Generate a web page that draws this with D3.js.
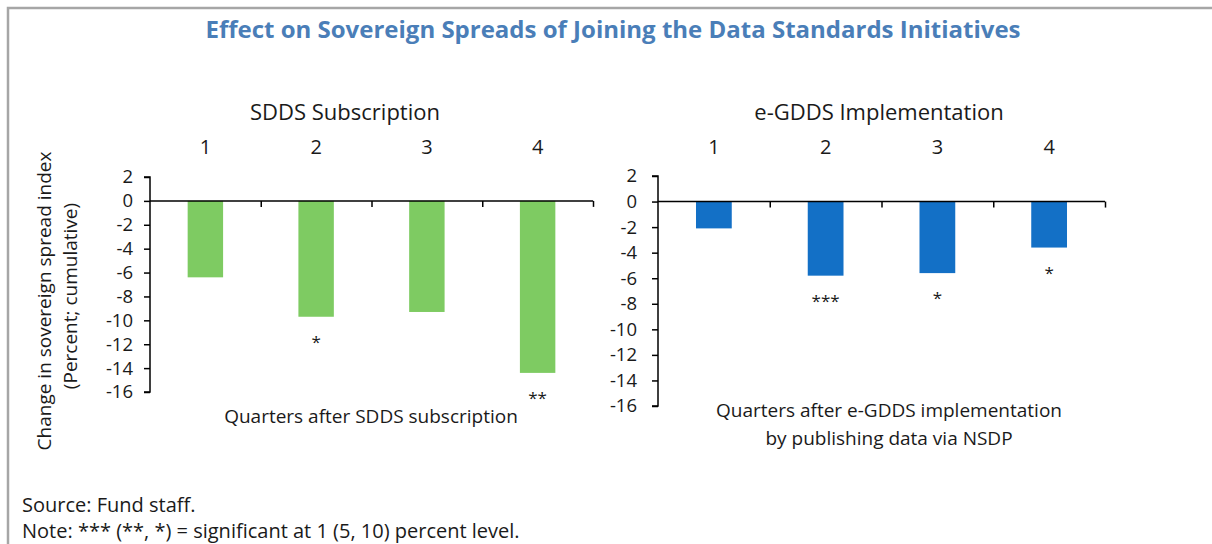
<!DOCTYPE html>
<html>
<head>
<meta charset="utf-8">
<script src="https://cdn.jsdelivr.net/npm/d3@7"></script>
<style>
  body { margin: 0; background: #fff; }
  svg { display: block; font-family: "Open Sans", "Noto Sans", sans-serif; }
</style>
</head>
<body>
<svg id="chart" width="1212" height="544"></svg>
<script>
// ---- data ----
const quarters = ["1", "2", "3", "4"];
const sddsValues = [-6.4, -9.7, -9.3, -14.4];
const sddsStars = ["", "*", "", "**"];
const egddsValues = [-2.1, -5.8, -5.6, -3.6];
const egddsStars = ["", "***", "*", "*"];
const yTicks = [2, 0, -2, -4, -6, -8, -10, -12, -14, -16];

const titleText = "Effect on Sovereign Spreads of Joining the Data Standards Initiatives";
const sddsTitle = "SDDS Subscription";
const egddsTitle = "e-GDDS Implementation";
const sddsXTitle = ["Quarters after SDDS subscription"];
const egddsXTitle = ["Quarters after e-GDDS implementation", "by publishing data via NSDP"];
const yTitle = ["Change in sovereign spread index", "(Percent; cumulative)"];
const notes = ["Source: Fund staff.", "Note: *** (**, *) = significant at 1 (5, 10) percent level."];

const FONT = "Open Sans, Noto Sans, sans-serif";
const svg = d3.select("#chart");

// frame
svg.append("path")
  .attr("d", "M8,545 L8,8 L1213,8")
  .attr("fill", "none").attr("stroke", "#a6a6a6").attr("stroke-width", 2.5);

// title
svg.append("text").attr("x", 613).attr("y", 38).attr("text-anchor", "middle")
  .attr("font-size", 24).attr("font-weight", "bold").attr("fill", "#4a7eb8")
  .text(titleText);

function panel(cfg) {
  const x = d3.scaleBand().domain(quarters).range([cfg.x0, cfg.x1])
    .paddingInner(0.68).paddingOuter(0.34);
  const y = d3.scaleLinear().domain([2, -16]).range([cfg.yTop, cfg.yBot]);
  const g = svg.append("g");

  // subtitle
  g.append("text").attr("x", cfg.subX).attr("y", 120).attr("text-anchor", "middle")
    .attr("font-size", 22).attr("fill", "#1a1a1a").text(cfg.title);

  // bars
  g.selectAll("rect.bar").data(cfg.values).enter().append("rect")
    .attr("class", "bar")
    .attr("x", (d, i) => x(quarters[i]))
    .attr("width", x.bandwidth())
    .attr("y", d => y(Math.max(0, d)))
    .attr("height", d => Math.abs(y(d) - y(0)))
    .attr("fill", cfg.color);

  // stars
  g.selectAll("text.star").data(cfg.values).enter().append("text")
    .attr("class", "star")
    .attr("x", (d, i) => x(quarters[i]) + x.bandwidth() / 2)
    .attr("y", d => y(d) + 31)
    .attr("text-anchor", "middle").attr("font-size", 17).attr("fill", "#1a1a1a")
    .text((d, i) => cfg.stars[i]);

  // y axis
  const ya = g.append("g").attr("transform", `translate(${cfg.x0},0)`)
    .call(d3.axisLeft(y).tickValues(yTicks).tickSize(6).tickPadding(cfg.tickPad)
      .tickFormat(d => d < 0 ? "-" + Math.abs(d) : String(d)));
  ya.select(".domain").attr("d", `M-6,${y(2)}H0V${y(-16)}H-6`).attr("stroke", "#000").attr("stroke-width", 1.5);
  ya.selectAll(".tick line").attr("stroke", "#000").attr("stroke-width", 1.5);
  ya.selectAll("text").attr("font-size", 18.5).attr("fill", "#1a1a1a").attr("font-family", FONT);

  // x axis line at zero with boundary ticks pointing down
  const xb = d3.scaleLinear().domain([0, quarters.length]).range([cfg.x0, cfg.x1]);
  const xa = g.append("g").attr("transform", `translate(0,${y(0)})`)
    .call(d3.axisBottom(xb).tickValues([1, 2, 3, 4]).tickSize(6).tickFormat(""));
  xa.select(".domain").attr("d", `M${cfg.x0},0H${cfg.x1}`).attr("stroke", "#000").attr("stroke-width", 1.5);
  xa.selectAll(".tick line").attr("stroke", "#000").attr("stroke-width", 1.5);

  // category labels on top
  const ca = g.append("g").attr("transform", `translate(0,154)`)
    .call(d3.axisTop(x).tickSize(0).tickPadding(0));
  ca.select(".domain").remove();
  ca.selectAll("text").attr("font-size", 20).attr("fill", "#1a1a1a").attr("font-family", FONT);

  // x title
  cfg.xTitle.forEach((t, i) => {
    g.append("text").attr("x", cfg.xTitleX).attr("y", cfg.xTitleY + i * 28)
      .attr("text-anchor", "middle").attr("font-size", 19).attr("fill", "#1a1a1a").text(t);
  });
}

panel({ x0: 150, x1: 593, yTop: 177, yBot: 392, values: sddsValues, stars: sddsStars, tickPad: 11,
  color: "#7ecb62", title: sddsTitle, subX: 345, xTitle: sddsXTitle, xTitleX: 371, xTitleY: 423 });
panel({ x0: 658, x1: 1105, yTop: 176, yBot: 406, values: egddsValues, stars: egddsStars, tickPad: 15,
  color: "#1370c6", title: egddsTitle, subX: 879, xTitle: egddsXTitle, xTitleX: 889, xTitleY: 417 });

// y title
yTitle.forEach((t, i) => {
  svg.append("text").attr("transform", `translate(${51 + i * 26},${i === 0 ? 301 : 296}) rotate(-90)`)
    .attr("text-anchor", "middle").attr("font-size", 19).attr("fill", "#1a1a1a").text(t);
});

// notes
notes.forEach((t, i) => {
  svg.append("text").attr("x", 22).attr("y", 512 + i * 26).attr("font-size", 20)
    .attr("fill", "#1a1a1a").text(t);
});
</script>
</body>
</html>
